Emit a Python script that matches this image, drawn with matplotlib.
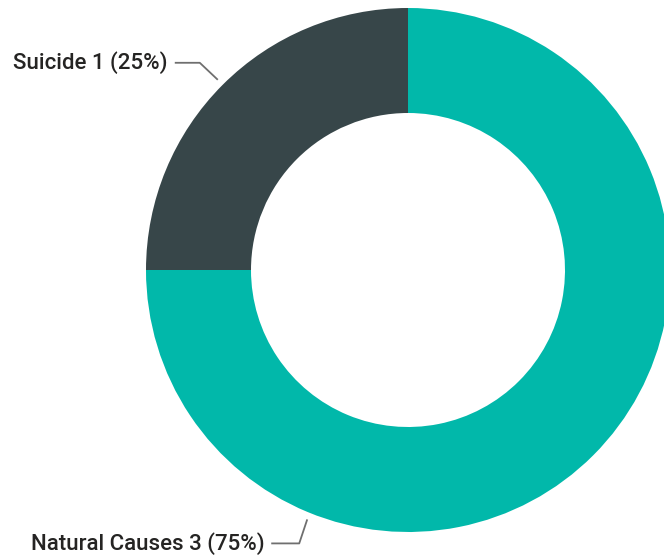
import numpy as np
import matplotlib.pyplot as plt

# data
labels = ["Suicide", "Natural Causes"]
counts = [1, 3]
colors = ["#374649", "#01B8AA"]

W, H = 664, 556
fig = plt.figure(figsize=(W / 100, H / 100), dpi=100)
ax = fig.add_axes([0, 0, 1, 1])

cx, cy, r = 408, 286, 262
wedges, _ = ax.pie(counts, colors=colors, startangle=90, counterclock=True,
                   center=(cx, cy), radius=r, frame=True,
                   wedgeprops=dict(width=r - 157, linewidth=0))
ax.set_xlim(0, W)
ax.set_ylim(0, H)
ax.set_aspect("equal")
ax.axis("off")

total = sum(counts)
# leader line anchor angles (deg) and label offsets
anchors = [(135, (-18, 17), -25), (248, (-8, -24), -28)]
for lab, n, (ang, (dx, dy), hl) in zip(labels, counts, anchors):
    a = np.deg2rad(ang)
    x0, y0 = cx + (r + 7) * np.cos(a), cy + (r + 7) * np.sin(a)
    x1, y1 = x0 + dx, y0 + dy
    x2 = x1 + hl
    ax.plot([x0, x1, x2], [y0, y1, y1], color="#6f6f6f", lw=1.3,
            solid_capstyle="butt", clip_on=False)
    ax.text(x2 - 7, y1, f"{lab} {n} ({n / total:.0%})", ha="right", va="center",
            fontsize=16, family="Roboto", fontweight="medium", color="#252423")

fig.savefig("out.png", dpi=100)
